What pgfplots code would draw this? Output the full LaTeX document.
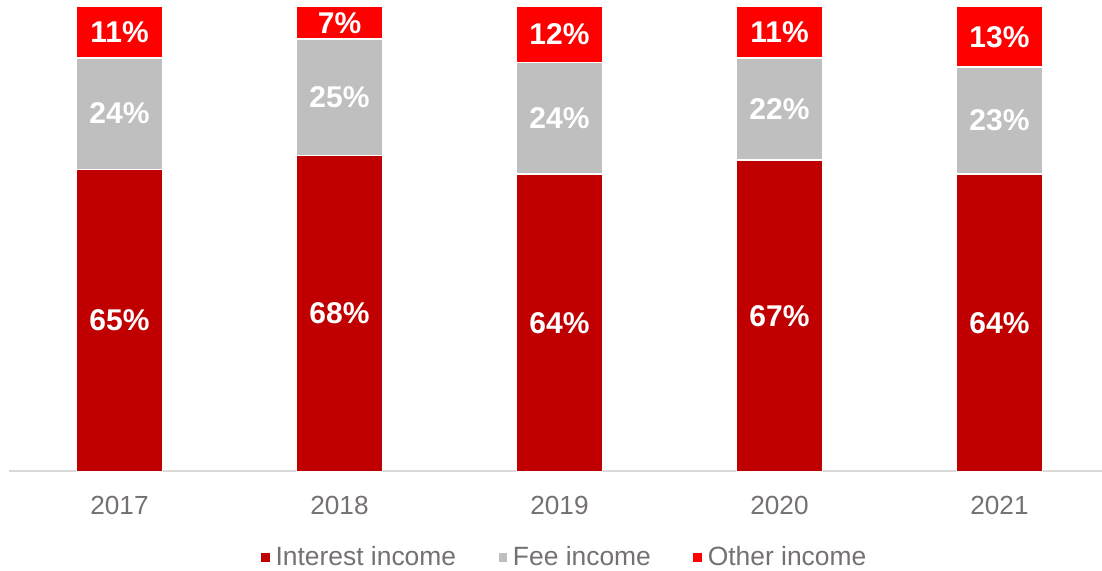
\documentclass[border=0pt]{standalone}
\usepackage{pgfplots}
\pgfplotsset{compat=1.18}
\usepackage{pgfplotstable}
\usepackage{fontspec}
\setmainfont{Liberation Sans}

\definecolor{interest}{HTML}{C00000}
\definecolor{fee}{HTML}{BFBFBF}
\definecolor{other}{HTML}{FF0000}
\definecolor{txt}{HTML}{767171}
\definecolor{axline}{HTML}{D9D9D9}

% year index, share in %
\pgfplotstableread{
x v
0 65
1 68
2 64
3 67
4 64
}\interest
\pgfplotstableread{
x v
0 24
1 25
2 24
3 22
4 23
}\fee
\pgfplotstableread{
x v
0 11
1 7
2 12
3 11
4 13
}\other

\begin{document}
\begin{tikzpicture}
\useasboundingbox (-4.75pt,-49.75pt) rectangle (546.25pt,235.75pt);
\begin{axis}[
    at={(0,0)}, anchor=south west,
    scale only axis,
    width=550pt, height=232.4pt,
    ybar stacked, bar width=43pt,
    xmin=-0.5, xmax=4.5, ymin=0, ymax=100,
    axis x line*=bottom, axis y line=none,
    x axis line style={axline, line width=1pt, -},
    xtick=data, xticklabels={2017,2018,2019,2020,2021},
    major tick length=0pt,
    xticklabel style={font=\fontsize{13.1}{15}\selectfont, text=txt, anchor=base, yshift=-21.3pt},
    clip=false,
    visualization depends on={\thisrow{v} \as \rawy},
    nodes near coords={\pgfmathprintnumber[assume math mode=true]{\rawy}\%},
    every node near coord/.append style={font=\fontsize{15}{18}\selectfont\bfseries, text=white,
        anchor=center},
    legend columns=3,
    legend style={draw=none, at={(0.505,0)}, anchor=center, yshift=-43pt,
        font=\fontsize{13.2}{15}\selectfont, text=txt,
        /tikz/every even column/.append style={column sep=18.5pt}},
    legend image code/.code={\fill (0pt,-2.6pt) rectangle (5.2pt,2.6pt);},
]
\addplot[fill=interest, draw=white, line width=0.75pt] table[x=x, y=v] {\interest};
\addplot[fill=fee, draw=white, line width=0.75pt] table[x=x, y=v] {\fee};
\addplot[fill=other, draw=white, line width=0.75pt] table[x=x, y=v] {\other};
\legend{Interest income, Fee income, Other income}
\end{axis}
\end{tikzpicture}
\end{document}
